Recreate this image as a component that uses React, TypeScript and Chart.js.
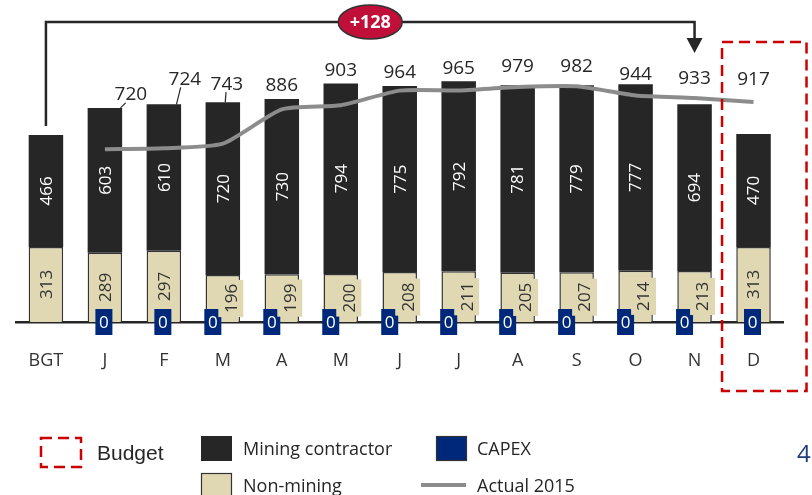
import { useEffect, useRef } from 'react';
import { Chart, registerables } from 'chart.js';

Chart.register(...registerables);

// ---- data ----
const categories = ['BGT', 'J', 'F', 'M', 'A', 'M', 'J', 'J', 'A', 'S', 'O', 'N', 'D'];
const miningContractor = [466, 603, 610, 720, 730, 794, 775, 792, 781, 779, 777, 694, 470];
const nonMining = [313, 289, 297, 196, 199, 200, 208, 211, 205, 207, 214, 213, 313];
const capex: (number | null)[] = [null, 0, 0, 0, 0, 0, 0, 0, 0, 0, 0, 0, 0];
const actual2015: (number | null)[] = [null, 720, 724, 743, 886, 903, 964, 965, 979, 982, 944, 933, 917];
const deltaText = '+128';
const pageNumber = '4';

// ---- styles ----
const DARK = '#262626';
const BEIGE = '#E0D8B2';
const NAVY = '#00287A';
const GRAY = '#8C8C8C';
const RED = '#CC0000';
const CRIMSON = '#C0103A';
const FONT = '"Open Sans", "Noto Sans", sans-serif';

// label nudges for the line-value labels (layout only)
const topNudge: Record<number, { dx: number; dy: number; leader?: boolean }> = {
  1: { dx: 26, dy: 0, leader: true },
  2: { dx: 21, dy: -12, leader: true },
  3: { dx: 4, dy: -5, leader: true },
  8: { dx: 0, dy: -6 },
  9: { dx: 0, dy: -6 },
  10: { dx: 0, dy: 3 },
  11: { dx: 0, dy: -6 },
  12: { dx: 0, dy: -9 },
};

function rotText(ctx: CanvasRenderingContext2D, text: string, cx: number, cy: number, font: string, color: string) {
  ctx.save();
  ctx.translate(cx, cy);
  ctx.rotate(-Math.PI / 2);
  ctx.font = font;
  ctx.fillStyle = color;
  ctx.textAlign = 'center';
  ctx.textBaseline = 'middle';
  ctx.fillText(text, 0, 1);
  ctx.restore();
}

const overlayPlugin = {
  id: 'overlay',
  afterDatasetsDraw(chart: any) {
    const ctx: CanvasRenderingContext2D = chart.ctx;
    const yScale = chart.scales.y;
    const capexMeta = chart.getDatasetMeta(1);
    const nmMeta = chart.getDatasetMeta(2);
    const mcMeta = chart.getDatasetMeta(3);
    const innerFont = `17px ${FONT}`;

    // mining contractor labels
    mcMeta.data.forEach((el: any, i: number) => {
      rotText(ctx, String(miningContractor[i]), el.x, (el.y + el.base) / 2, innerFont, '#FFFFFF');
    });

    // capex labels
    capexMeta.data.forEach((el: any, i: number) => {
      if (capex[i] === null) return;
      const shifted = nonMining[i] < 250;
      const cx = el.x + (shifted ? -10 : -1);
      const cy = yScale.getPixelForValue(0);
      ctx.fillStyle = NAVY;
      ctx.fillRect(cx - 8.5, cy - 13, 17, 26);
      ctx.font = innerFont;
      ctx.fillStyle = '#FFFFFF';
      ctx.textAlign = 'center';
      ctx.textBaseline = 'middle';
      ctx.fillText(String(capex[i]), cx, cy + 1);
    });

    // non-mining labels
    nmMeta.data.forEach((el: any, i: number) => {
      const shifted = nonMining[i] < 250;
      const cy = (el.y + el.base) / 2;
      const txt = String(nonMining[i]);
      if (shifted) {
        const cx = el.x + 8;
        ctx.font = innerFont;
        const w = ctx.measureText(txt).width;
        ctx.fillStyle = BEIGE;
        ctx.fillRect(cx - 12.5, cy - w / 2 - 4, 25, w + 8);
        rotText(ctx, txt, cx, cy, innerFont, '#333333');
      } else {
        rotText(ctx, txt, el.x, cy, innerFont, '#333333');
      }
    });

    // line value labels above bars
    ctx.font = `19px ${FONT}`;
    ctx.textAlign = 'center';
    ctx.textBaseline = 'middle';
    mcMeta.data.forEach((el: any, i: number) => {
      const v = actual2015[i];
      if (v === null) return;
      const lineY = yScale.getPixelForValue(v);
      const n = topNudge[i] || { dx: 0, dy: 0 };
      const base = Math.min(el.y, lineY);
      const cx = el.x + n.dx;
      const cy = base - 13 + n.dy;
      ctx.fillStyle = '#262626';
      ctx.fillText(String(v), cx, cy);
      if (n.leader) {
        ctx.save();
        ctx.strokeStyle = '#262626';
        ctx.lineWidth = 1.2;
        ctx.beginPath();
        ctx.moveTo(el.x + n.dx * 0.6, el.y);
        ctx.lineTo(cx - n.dx * 0.2, cy + 8);
        ctx.stroke();
        ctx.restore();
      }
    });
  },
  afterDraw(chart: any) {
    const ctx: CanvasRenderingContext2D = chart.ctx;
    const xScale = chart.scales.x;
    const mcMeta = chart.getDatasetMeta(3);
    const first = mcMeta.data[0];
    const nov = mcMeta.data[11];
    const last = mcMeta.data[12];
    const catW = (xScale.right - xScale.left) / categories.length;

    // bracket arrow
    const topY = 22;
    ctx.save();
    ctx.strokeStyle = DARK;
    ctx.lineWidth = 2.5;
    ctx.beginPath();
    ctx.moveTo(first.x, first.y - 9);
    ctx.lineTo(first.x, topY);
    ctx.lineTo(nov.x, topY);
    ctx.lineTo(nov.x, 40);
    ctx.stroke();
    ctx.fillStyle = DARK;
    ctx.beginPath();
    ctx.moveTo(nov.x - 8, 38);
    ctx.lineTo(nov.x + 8, 38);
    ctx.lineTo(nov.x, 53);
    ctx.closePath();
    ctx.fill();

    // ellipse badge
    const ex = (first.x + nov.x) / 2;
    ctx.beginPath();
    ctx.ellipse(ex, topY, 32, 17, 0, 0, Math.PI * 2);
    ctx.fillStyle = CRIMSON;
    ctx.fill();
    ctx.lineWidth = 1.5;
    ctx.strokeStyle = '#333';
    ctx.stroke();
    ctx.fillStyle = '#FFFFFF';
    ctx.font = `bold 18px ${FONT}`;
    ctx.textAlign = 'center';
    ctx.textBaseline = 'middle';
    ctx.fillText(deltaText, ex, topY + 1);

    // budget dashed box around last category
    ctx.strokeStyle = RED;
    ctx.lineWidth = 2.5;
    ctx.setLineDash([11, 6]);
    const bx0 = last.x - catW / 2 - 2;
    ctx.strokeRect(bx0, 42, last.x + 53 - bx0, 391 - 42);

    // legend
    ctx.strokeRect(41, 438, 40, 29);
    ctx.setLineDash([]);
    ctx.textAlign = 'left';
    ctx.textBaseline = 'middle';
    ctx.fillStyle = '#262626';
    ctx.font = `21px "Liberation Sans", Arial, sans-serif`;
    ctx.fillText('Budget', 97, 454);

    ctx.font = `18px ${FONT}`;
    ctx.fillStyle = DARK;
    ctx.fillRect(201, 436, 31, 25);
    ctx.fillStyle = '#262626';
    ctx.fillText('Mining contractor', 243, 450);

    ctx.fillStyle = NAVY;
    ctx.fillRect(436, 436, 31, 25);
    ctx.lineWidth = 1.2;
    ctx.strokeStyle = '#333';
    ctx.strokeRect(436.5, 436.5, 30, 24);
    ctx.fillStyle = '#262626';
    ctx.fillText('CAPEX', 477, 450);

    ctx.fillStyle = BEIGE;
    ctx.fillRect(201, 473, 31, 25);
    ctx.strokeRect(201.5, 473.5, 30, 24);
    ctx.fillStyle = '#262626';
    ctx.fillText('Non-mining', 243, 487);

    ctx.strokeStyle = GRAY;
    ctx.lineWidth = 4;
    ctx.beginPath();
    ctx.moveTo(421, 485);
    ctx.lineTo(466, 485);
    ctx.stroke();
    ctx.fillStyle = '#262626';
    ctx.fillText('Actual 2015', 477, 487);

    ctx.fillStyle = '#1F3D7A';
    ctx.font = `24px ${FONT}`;
    ctx.fillText(pageNumber, 797, 455);
    ctx.restore();
  },
};

export default function App() {
  const ref = useRef<HTMLCanvasElement>(null);
  useEffect(() => {
    const canvas = ref.current!;
    const chart = new Chart(canvas, {
      type: 'bar',
      data: {
        labels: categories,
        datasets: [
          {
            type: 'line',
            label: 'Actual 2015',
            data: actual2015,
            borderColor: GRAY,
            borderWidth: 4,
            pointRadius: 0,
            tension: 0.2,
            stack: 'line',
            order: 0,
          } as any,
          { label: 'CAPEX', data: capex, backgroundColor: NAVY, stack: 'bars', order: 1 },
          {
            label: 'Non-mining',
            data: nonMining,
            backgroundColor: BEIGE,
            borderColor: '#333333',
            borderWidth: 1.5,
            stack: 'bars',
            order: 1,
          },
          { label: 'Mining contractor', data: miningContractor, backgroundColor: DARK, stack: 'bars', order: 1 },
        ],
      },
      options: {
        responsive: false,
        animation: false,
        devicePixelRatio: 1,
        layout: { padding: { top: 10, left: 16, right: 29, bottom: 0 } },
        datasets: { bar: { barPercentage: 0.585, categoryPercentage: 1 } },
        plugins: { legend: { display: false }, tooltip: { enabled: false } },
        scales: {
          x: {
            stacked: true,
            grid: { display: false, drawTicks: false },
            border: { display: true, color: '#262626', width: 2.5 },
            ticks: { color: '#333333', font: { family: FONT, size: 18 }, padding: 28 },
            afterFit: (scale: any) => {
              scale.height = 173;
            },
          },
          y: { display: false, stacked: true, min: 0, max: 1300 },
        },
      },
      plugins: [overlayPlugin],
    });
    return () => chart.destroy();
  }, []);
  return (
    <div style={{ position: 'fixed', left: 0, top: 0, width: 812, height: 495, background: '#fff' }}>
      <canvas ref={ref} width={812} height={495} style={{ display: 'block' }} />
    </div>
  );
}
